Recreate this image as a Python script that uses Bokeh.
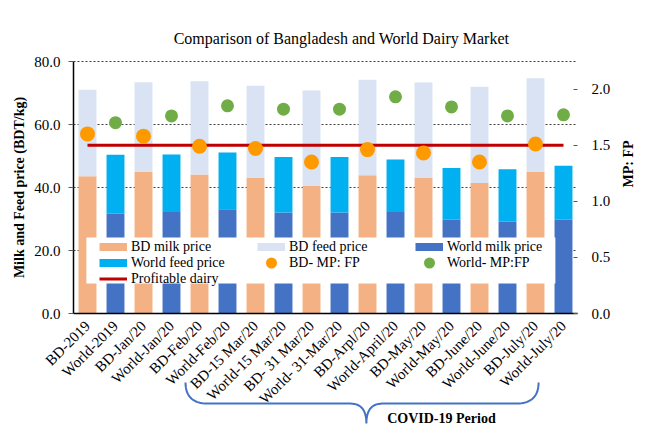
import numpy as np
from math import pi
from bokeh.plotting import figure
from bokeh.models import (FactorRange, Range1d, LinearAxis, FixedTicker, NumeralTickFormatter,
                          Legend, LegendItem, Label, BoxAnnotation, ColumnDataSource)
from bokeh.embed import file_html
from bokeh.resources import INLINE

# ---------------- data ----------------
categories = ["BD-2019", "World-2019", "BD-Jan/20", "World-Jan/20", "BD-Feb/20", "World-Feb/20",
              "BD-15 Mar/20", "World-15 Mar/20", "BD- 31 Mar/20", "World- 31-Mar/20",
              "BD-Arpl/20", "World-April/20", "BD-May/20", "World-May/20", "BD-June/20",
              "World-June/20", "BD-July/20", "World-July/20"]
bd_categories = categories[0::2]
world_categories = categories[1::2]

bd_milk_price = [43.6, 44.9, 44.1, 43.0, 40.5, 43.9, 43.2, 41.4, 44.9]
bd_feed_price = [27.4, 28.5, 29.6, 29.3, 30.3, 30.3, 30.1, 30.6, 29.8]
world_milk_price = [31.7, 32.2, 33.1, 32.1, 32.1, 32.2, 29.8, 29.1, 29.8]
world_feed_price = [18.7, 18.3, 18.0, 17.6, 17.6, 16.7, 16.4, 16.7, 17.1]
bd_mp_fp = [1.60, 1.58, 1.49, 1.47, 1.35, 1.46, 1.43, 1.35, 1.51]
world_mp_fp = [1.70, 1.76, 1.85, 1.82, 1.82, 1.93, 1.84, 1.76, 1.77]
profitable_dairy = 1.5

left_ticks = [0, 20, 40, 60, 80]
right_ticks = [0, 0.5, 1.0, 1.5, 2.0]
LEFT_MAX = 80
RIGHT_MAX = 2.245

# ---------------- style / layout ----------------
FONT = "Liberation Serif"
C_BD_MILK = "#f4b183"
C_BD_FEED = "#dae3f3"
C_W_MILK = "#4472c4"
C_W_FEED = "#00b0f0"
C_BD_DOT = "#ff9900"
C_W_DOT = "#70ad47"
C_RED = "#c00000"
C_BRACE = "#4472c4"

W, H = 650, 429
TOP = 61                           # pixels above the value 80
SIDE = 73                          # pixels left of the first category / right of the last
PLOT_H = 252                       # pixels from value 0 to value 80
n_cat = len(categories)
px_per_cat = (W - 2 * SIDE) / n_cat
px_per_unit = PLOT_H / LEFT_MAX
# the frame spans the whole canvas so that the brace, the title and the axes
# placed at fixed locations are all drawn inside it
y_low = -(H - TOP - PLOT_H) / px_per_unit
y_high = LEFT_MAX + TOP / px_per_unit
scale_r = RIGHT_MAX / LEFT_MAX

x_range = FactorRange(factors=categories, range_padding=SIDE / px_per_cat,
                      range_padding_units="absolute")
p = figure(width=W, height=H, x_range=x_range,
           y_range=Range1d(y_low, y_high), output_backend="svg", toolbar_location=None,
           min_border_left=0, min_border_right=0, min_border_top=0, min_border_bottom=0)
p.extra_y_ranges = {"mp": Range1d(y_low * scale_r, y_high * scale_r)}
p.outline_line_color = None
p.background_fill_color = "white"
p.border_fill_color = "white"

# grid: horizontal dotted lines only across the category area
p.xgrid.grid_line_color = None
grid_ok = True
try:
    p.ygrid[0].cross_bounds = (0, n_cat)
except Exception:
    grid_ok = False
if grid_ok:
    p.ygrid.ticker = FixedTicker(ticks=left_ticks)
    p.ygrid.grid_line_color = "#404040"
    p.ygrid.grid_line_dash = "2 2"
    p.ygrid.grid_line_width = 1
else:
    p.ygrid.grid_line_color = None
    p.segment(x0=[0] * len(left_ticks), x1=[n_cat] * len(left_ticks), y0=left_ticks, y1=left_ticks,
              line_color="#404040", line_dash="2 2", line_width=1)

# bars (stacked)
bd_src = ColumnDataSource(dict(x=bd_categories, milk=bd_milk_price,
                               total=list(np.add(bd_milk_price, bd_feed_price))))
w_src = ColumnDataSource(dict(x=world_categories, milk=world_milk_price,
                              total=list(np.add(world_milk_price, world_feed_price))))
BW = 0.64
p.vbar(x="x", bottom=0, top="milk", width=BW, source=bd_src, fill_color=C_BD_MILK, line_color=None)
p.vbar(x="x", bottom="milk", top="total", width=BW, source=bd_src, fill_color=C_BD_FEED, line_color=None)
p.vbar(x="x", bottom=0, top="milk", width=BW, source=w_src, fill_color=C_W_MILK, line_color=None)
p.vbar(x="x", bottom="milk", top="total", width=BW, source=w_src, fill_color=C_W_FEED, line_color=None)

# profitable line
r_red = p.line(x=[categories[0], categories[-1]], y=[profitable_dairy, profitable_dairy],
               y_range_name="mp", line_color=C_RED, line_width=3)

# ratio dots
r_bd = p.scatter(x=bd_categories, y=bd_mp_fp, y_range_name="mp", size=10,
                 fill_color=C_BD_DOT, line_color=C_BD_DOT, line_width=5)
r_w = p.scatter(x=world_categories, y=world_mp_fp, y_range_name="mp", size=8,
                fill_color=C_W_DOT, line_color=C_W_DOT, line_width=5)

# legend proxies for the bar series (thick legend strokes, nothing drawn on the plot)
nan2 = [float("nan"), float("nan")]
px_x = [categories[0], categories[0]]
px_bd_milk = p.line(x=px_x, y=nan2, line_color=C_BD_MILK, line_width=8)
px_bd_feed = p.line(x=px_x, y=nan2, line_color=C_BD_FEED, line_width=8)
px_w_milk = p.line(x=px_x, y=nan2, line_color=C_W_MILK, line_width=8)
px_w_feed = p.line(x=px_x, y=nan2, line_color=C_W_FEED, line_width=8)

# axes
left = p.yaxis[0]
left.fixed_location = 0
left.ticker = FixedTicker(ticks=left_ticks)
left.bounds = (0, LEFT_MAX)
left.formatter = NumeralTickFormatter(format="0.0")
left.axis_label = "Milk and Feed price (BDT/kg)"
left.axis_line_color = "black"
left.axis_line_width = 1.5
left.major_tick_out = 5
left.major_tick_in = 0
left.major_tick_line_color = "#595959"
left.minor_tick_line_color = None
left.major_label_standoff = 8
left.axis_label_standoff = 4

right = LinearAxis(y_range_name="mp", ticker=FixedTicker(ticks=right_ticks),
                   formatter=NumeralTickFormatter(format="0.0"), axis_label="MP: FP",
                   bounds=(0, RIGHT_MAX), fixed_location=n_cat)
right.axis_line_color = None
right.major_tick_out = 0
right.major_tick_in = 4
right.major_tick_line_color = "#595959"
right.minor_tick_line_color = None
right.major_label_standoff = 14
right.axis_label_standoff = 15
right.axis_label_orientation = pi / 2
p.add_layout(right, "right")

bottom = p.xaxis[0]
bottom.fixed_location = 0
bottom.bounds = (0, n_cat)
bottom.axis_line_color = "black"
bottom.axis_line_width = 1.5
bottom.major_tick_line_color = None
bottom.minor_tick_line_color = None
bottom.major_label_orientation = pi / 4
bottom.major_label_standoff = 4

for ax in [left, right, bottom]:
    ax.major_label_text_font = FONT
    ax.major_label_text_font_size = "15px"
    ax.major_label_text_color = "black"
    ax.axis_label_text_font = FONT
    ax.axis_label_text_font_size = "14px"
    ax.axis_label_text_font_style = "bold"
    ax.axis_label_text_color = "black"

# legend background box + legend
p.add_layout(BoxAnnotation(left=0.46, right=17.21, bottom=9.5, top=24.1,
                           fill_color="white", fill_alpha=1.0, line_color=None))
legend_bottom = 26.5 + (H - TOP - PLOT_H)
legend = Legend(items=[
    LegendItem(label="BD milk price", renderers=[px_bd_milk]),
    LegendItem(label="BD feed price", renderers=[px_bd_feed]),
    LegendItem(label="World milk price", renderers=[px_w_milk]),
    LegendItem(label="World feed price", renderers=[px_w_feed]),
    LegendItem(label="BD- MP: FP", renderers=[r_bd]),
    LegendItem(label="World- MP:FP", renderers=[r_w]),
    LegendItem(label="Profitable dairy", renderers=[r_red]),
], location=(26 + SIDE, legend_bottom), orientation="horizontal", ncols=3,
    glyph_width=28, glyph_height=15, label_height=15, label_width=126, label_standoff=4,
    spacing=0, padding=0, margin=0, background_fill_alpha=0, border_line_color=None,
    label_text_font=FONT, label_text_font_size="14px", label_text_color="black")
p.add_layout(legend, "center")

# title
p.add_layout(Label(x=9.57, y=87.3, text="Comparison of Bangladesh and World Dairy Market",
                   text_align="center", text_baseline="middle", text_font=FONT,
                   text_font_size="16px", text_color="black"))

# COVID brace below the axis
x_l, x_t, x_r = 4.0, 10.46, 16.61
y_top, y_mid, y_tip = -21.9, -28.6, -34.9
dx_end, dx_tip = 0.8, 0.57

def quad(p0, c, p1, n=16):
    t = np.linspace(0, 1, n)
    xs = (1 - t) ** 2 * p0[0] + 2 * (1 - t) * t * c[0] + t ** 2 * p1[0]
    ys = (1 - t) ** 2 * p0[1] + 2 * (1 - t) * t * c[1] + t ** 2 * p1[1]
    return list(xs), list(ys)

segs = [
    quad((x_l, y_top), (x_l, y_mid), (x_l + dx_end, y_mid)),
    quad((x_t - dx_tip, y_mid), (x_t, y_mid), (x_t, y_tip)),
    quad((x_t, y_tip), (x_t, y_mid), (x_t + dx_tip, y_mid)),
    quad((x_r - dx_end, y_mid), (x_r, y_mid), (x_r, y_top)),
]
bx, by = [], []
for sx, sy in segs:
    bx += sx
    by += sy
p.line(x=bx, y=by, line_color=C_BRACE, line_width=2)

p.add_layout(Label(x=13.14, y=-33.3, text="COVID-19 Period", text_align="center",
                   text_baseline="middle", text_font=FONT, text_font_size="14px",
                   text_font_style="bold", text_color="black"))

open("out.html", "w").write(file_html(p, INLINE))
